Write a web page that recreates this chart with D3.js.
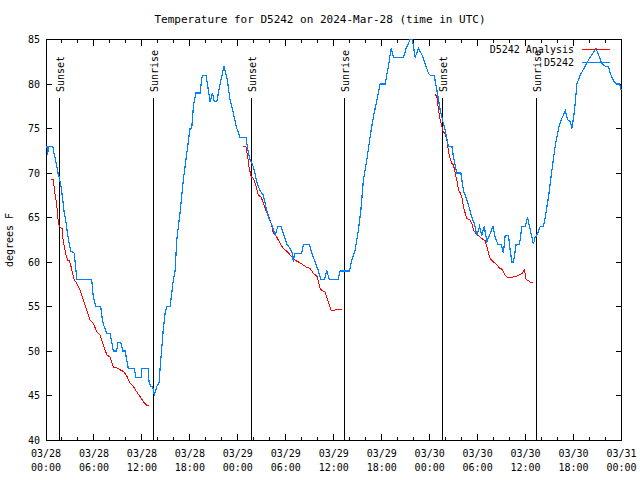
<!DOCTYPE html>
<html>
<head>
<meta charset="utf-8">
<script src="https://cdn.jsdelivr.net/npm/d3@7"></script>
<style>
  body { margin: 0; background: #fff; }
  svg { display: block; }
  text { font-family: "DejaVu Sans Mono", "Liberation Mono", monospace; fill: #000; }
</style>
</head>
<body>
<svg id="chart" width="640" height="480"></svg>
<script>
// ---- Data (hours since 2024-03-28 00:00 UTC, temperature in F) ----
const titleText = "Temperature for D5242 on 2024-Mar-28 (time in UTC)";
const yLabel = "degrees F";
const yTicks = [40, 45, 50, 55, 60, 65, 70, 75, 80, 85];
const seriesNames = ["D5242 Analysis", "D5242"];

const stationObs = [
  [0,73],[0.12,73],[0.21,72],[0.3,73],[0.85,73],[1.05,72],[1.3,71],[1.5,70],[1.66,69.5],[1.88,68.5],
  [2.09,67],[2.29,65.5],[2.5,64.5],[2.72,63],[2.92,62],[3.13,61.2],[3.54,61],[3.75,59],[3.88,58],[5.72,58],
  [5.92,56],[6.26,55],[6.85,55],[6.97,54],[7.17,53],[7.6,52],[8.01,52],[8.22,51],[8.42,50],[8.85,50],
  [8.97,51],[9.35,51],[9.6,50],[9.89,50],[10.1,49],[10.3,48],[11.05,48],[11.26,47],[11.89,47],[11.98,48],
  [12.8,48],[12.89,46.5],[13.1,46],[13.35,46],[13.55,45],[13.85,46],[14.14,46.4],[14.27,48],[14.48,50.3],[14.68,52.5],
  [14.89,54.2],[15.1,55],[15.52,55],[15.73,56.5],[15.93,58],[16.15,59],[16.36,62.5],[16.77,65.5],[17.18,69.2],[17.61,72.2],
  [18.02,75],[18.23,75],[18.44,77.5],[18.74,79],[19.27,79],[19.56,81],[20.03,81],[20.53,78],[20.81,79],[21.06,78],
  [21.36,78],[21.78,80],[22.28,82],[22.69,80.4],[23.03,78.2],[23.44,76.7],[23.87,75],[24.28,74],[25.03,74],[25.24,72.6],
  [25.53,71.5],[25.82,71],[26.07,70.3],[26.37,69],[26.78,68],[27.2,67.5],[27.41,66.6],[27.82,65],[28.25,64.2],[28.66,63],
  [29.0,64],[29.41,64],[29.7,63.2],[30.13,62],[30.54,61.5],[30.83,61],[30.95,60],[31.08,61],[32.0,61],[32.2,62],
  [32.95,62],[33.25,61],[33.67,60],[34.08,59],[34.38,58],[34.83,58],[35.13,59],[35.46,58],[36.51,58],[36.8,59],
  [37.96,59],[38.26,60.2],[38.67,61.3],[39.09,63.6],[39.39,65.8],[39.71,69.2],[40.14,71.5],[40.55,74.1],[40.96,76.3],[41.39,78.2],
  [41.8,80],[42.43,80],[42.84,82],[43.18,84],[43.47,83],[44.72,83],[45.06,84],[45.56,85],[45.84,85],[46.18,83],
  [46.6,84],[47.02,83.3],[47.43,82.3],[47.85,81.2],[48.06,81],[48.56,81],[48.9,79.3],[49.31,77.1],[49.65,75.8],[49.94,74.8],
  [50.35,73],[50.78,73],[50.98,71.8],[51.4,70],[51.9,70],[52.23,68],[52.65,67],[52.98,66],[53.28,65],[53.6,64.3],
  [53.9,63],[54.23,64],[54.53,63],[54.82,64],[55.16,62.3],[55.57,63.2],[55.91,64],[56.2,62.8],[56.53,62],[56.95,62],
  [57.23,61],[57.45,63],[57.86,63],[58.07,61.3],[58.29,60],[58.49,60],[58.82,62],[59.24,62],[59.54,64],[59.95,64],
  [60.24,65],[60.49,64],[60.79,62.8],[60.99,62],[61.2,62.8],[61.41,63],[61.83,64],[62.24,64],[62.45,65],[62.87,67.3],
  [63.29,70.3],[63.7,73],[64.12,75],[64.46,76],[64.74,76.5],[64.96,77],[65.24,76],[65.58,75.8],[65.79,75],[66.12,77],
  [66.42,80],[66.83,81],[67.46,82],[67.87,82.7],[68.3,83.3],[68.8,84],[69.12,83.3],[69.55,82.3],[69.96,82],[70.38,82],
  [70.59,81.2],[71.0,80.4],[71.3,80],[71.75,80],[71.96,79.3]
];

const analysisNight1 = [
  [0.63,69.3],[0.92,69.3],[1.05,68.1],[1.25,67],[1.38,66],[1.54,64.5],[1.66,64],[1.88,63.8],[2.0,63.8],[2.09,62.8],
  [2.29,61.7],[2.5,60.8],[2.72,60.2],[2.92,60.2],[3.13,59.5],[3.34,58.7],[3.54,58],[3.84,57.6],[4.22,56.9],[4.67,55.7],
  [5.09,54.6],[5.51,53.5],[5.92,53.1],[6.34,52.2],[6.76,51.8],[7.17,50.7],[7.6,49.6],[8.01,49.3],[8.42,48.2],[8.85,48.1],
  [9.26,47.9],[9.68,47.7],[10.1,47.2],[10.51,46.4],[10.93,46],[11.35,45.4],[11.76,44.9],[12.18,44.3],[12.6,43.9],[12.93,43.9]
];
const analysisNight2 = [
  [24.7,73],[25.0,73],[25.24,71.8],[25.4,70.7],[25.66,69.6],[25.95,69.4],[26.28,68.5],[26.57,67.5],[26.91,67.3],[27.2,66.6],
  [27.53,65.7],[27.82,65.3],[28.12,64.5],[28.45,63.2],[28.87,62.8],[29.29,62.1],[29.7,61.5],[30.13,61.2],[30.54,60.8],[31.16,60.2],
  [31.79,59.9],[32.63,59.4],[33.04,59.3],[33.46,58.7],[33.9,58.4],[34.29,57],[34.5,56.8],[34.92,56.6],[35.33,55.5],[35.67,54.6],
  [36.17,54.6],[36.5,54.7],[37.0,54.7]
];
const analysisNight3 = [
  [48.69,78.8],[48.9,78.6],[49.1,77.1],[49.31,76],[49.52,75.2],[49.72,74.6],[49.94,74.4],[50.15,73.7],[50.35,72.4],[50.56,71.6],
  [50.78,71.1],[50.98,70.9],[51.19,70],[51.4,69.2],[51.6,68.1],[51.81,67.8],[52.03,67.3],[52.23,66.2],[52.44,65.5],[52.65,64.9],
  [53.07,64.7],[53.28,64.3],[53.48,63.6],[53.9,63.1],[54.32,62.8],[54.73,62.5],[54.94,62.4],[55.16,61.7],[55.36,61],[55.57,60.4],
  [55.98,60],[56.41,59.7],[56.73,59.3],[57.03,59.2],[57.45,58.5],[57.78,58.2],[58.29,58.3],[58.7,58.35],[59.11,58.5],[59.54,58.7],
  [59.86,59.1],[60.08,58],[60.36,57.9],[60.58,57.7],[60.91,57.7]
];

const sunEvents = [
  ["Sunset", 1.67], ["Sunrise", 13.34], ["Sunset", 25.69],
  ["Sunrise", 37.33], ["Sunset", 49.6], ["Sunrise", 61.27]
];

// ---- Drawing ----
const svg = d3.select("#chart");
const t0 = Date.UTC(2024, 2, 28, 0, 0);
const toDate = h => new Date(t0 + h * 3600e3);
const L = 46, R = 621.5, T = 39.5, B = 440;

const x = d3.scaleUtc().domain([toDate(0), toDate(72)]).range([L, R]);
const y = d3.scaleLinear().domain([40, 85]).range([B, T]);

const colors = { analysis: "#ff0000", obs: "#0080ff" };

// title
svg.append("text").attr("x", 320).attr("y", 23).attr("text-anchor", "middle")
  .style("font-size", "11px").text(titleText);

// frame
svg.append("rect").attr("x", L).attr("y", T).attr("width", R - L).attr("height", B - T)
  .attr("fill", "none").attr("stroke", "#000").attr("stroke-width", 1)
  .attr("shape-rendering", "crispEdges");

// x ticks
const major = d3.utcHour.every(6).range(toDate(0), toDate(72.01));
const minor = d3.utcHour.every(2).range(toDate(0), toDate(72.01));
const tg = svg.append("g").attr("stroke", "#000").attr("shape-rendering", "crispEdges");
minor.forEach(d => {
  const len = (d.getUTCHours() % 6 === 0) ? 6 : 3;
  tg.append("line").attr("x1", x(d)).attr("x2", x(d)).attr("y1", B).attr("y2", B - len);
  tg.append("line").attr("x1", x(d)).attr("x2", x(d)).attr("y1", T).attr("y2", T + len);
});
const fmtDay = d3.utcFormat("%m/%d"), fmtTime = d3.utcFormat("%H:%M");
major.forEach(d => {
  const t = svg.append("text").attr("x", x(d)).attr("text-anchor", "middle").style("font-size", "10px");
  t.append("tspan").attr("x", x(d)).attr("y", 457).text(fmtDay(d));
  t.append("tspan").attr("x", x(d)).attr("y", 471).text(fmtTime(d));
});

// y ticks
yTicks.forEach(v => {
  tg.append("line").attr("x1", L).attr("x2", L + 6).attr("y1", y(v)).attr("y2", y(v));
  tg.append("line").attr("x1", R).attr("x2", R - 6).attr("y1", y(v)).attr("y2", y(v));
  svg.append("text").attr("x", 40).attr("y", y(v) + 3.5).attr("text-anchor", "end")
    .style("font-size", "10px").text(v);
});

// y label
svg.append("text").attr("transform", "translate(13,240) rotate(-90)").attr("text-anchor", "middle")
  .style("font-size", "10px").text(yLabel);

// sunrise / sunset lines
sunEvents.forEach(([name, h]) => {
  const xx = Math.round(x(toDate(h))) + 0.5;
  svg.append("line").attr("x1", xx).attr("x2", xx).attr("y1", 98).attr("y2", B)
    .attr("stroke", "#000").attr("stroke-width", 1).attr("shape-rendering", "crispEdges");
  svg.append("text").attr("transform", `translate(${xx + 4},92) rotate(-90)`)
    .attr("text-anchor", "start").style("font-size", "10px").text(name);
});

// lines
const line = d3.line().x(d => x(toDate(d[0]))).y(d => y(d[1]));
[analysisNight1, analysisNight2, analysisNight3].forEach(seg => {
  svg.append("path").datum(seg).attr("d", line).attr("fill", "none")
    .attr("stroke", colors.analysis).attr("stroke-width", 1)
    .attr("shape-rendering", "crispEdges");
});
svg.append("path").datum(stationObs).attr("d", line).attr("fill", "none")
  .attr("stroke", colors.obs).attr("stroke-width", 1.2)
  .attr("shape-rendering", "crispEdges");

// legend
const leg = [[seriesNames[0], colors.analysis, 49.5], [seriesNames[1], colors.obs, 62.5]];
leg.forEach(([name, c, yy]) => {
  svg.append("text").attr("x", 574).attr("y", yy + 3.5).attr("text-anchor", "end")
    .style("font-size", "10px").text(name);
  svg.append("line").attr("x1", 582).attr("x2", 610).attr("y1", yy).attr("y2", yy)
    .attr("stroke", c).attr("stroke-width", 1).attr("shape-rendering", "crispEdges");
});
</script>
</body>
</html>
